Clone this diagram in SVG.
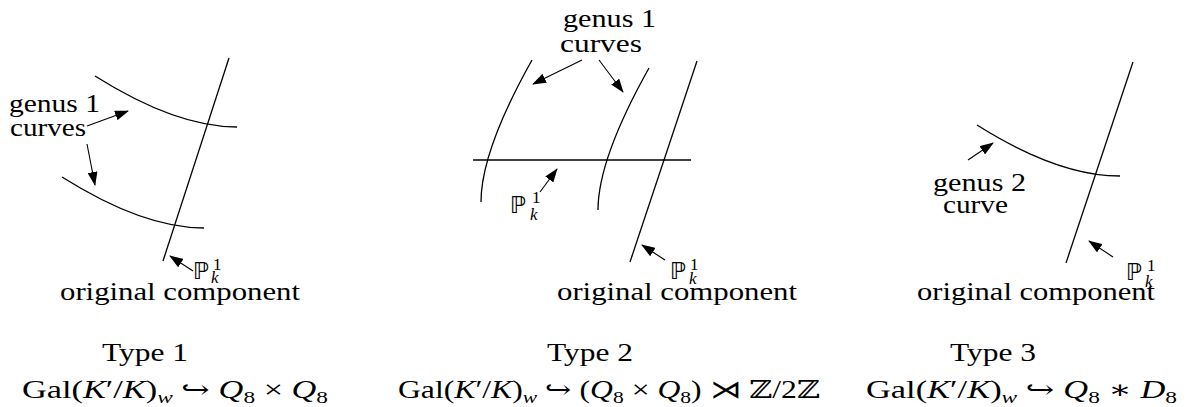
<svg xmlns="http://www.w3.org/2000/svg" width="1194" height="407" viewBox="0 0 1194 407">
<style>
text{font-family:"Liberation Serif","DejaVu Serif",serif;font-size:25px;fill:#000}
.i{font-style:italic}
.s{font-size:17px}
.bb{font-family:"DejaVu Sans","Liberation Sans",sans-serif;font-size:23px}
.ln{fill:none;stroke:#000;stroke-width:1.3}
.ar{fill:none;stroke:#000;stroke-width:1.1;marker-end:url(#ah)}
</style>
<defs>
<marker id="ah" markerUnits="userSpaceOnUse" markerWidth="14" markerHeight="10" refX="13" refY="5" orient="auto">
<path d="M0,0 L14,5 L0,10 z" fill="#000"/>
</marker>
</defs>
<g id="connectors">
<path class="ar" d="M87,126 L128,111"/>
<path class="ar" d="M87,144 L95,185"/>
<path class="ar" d="M193,271 L170,256"/>
<path class="ar" d="M582,60 L533,84"/>
<path class="ar" d="M599,60 L623,92"/>
<path class="ar" d="M540,192 L557,169"/>
<path class="ar" d="M665,260 L642,245"/>
<path class="ar" d="M968,160 L993,143"/>
<path class="ar" d="M1113,257 L1089,241"/>
</g>
<g id="panel1">
<path class="ln" d="M229,58 L163,261"/>
<path class="ln" d="M95,76 Q176,127 237,127"/>
<path class="ln" d="M62,177 Q143,228 204,228"/>
<text x="9" y="112" textLength="91" lengthAdjust="spacingAndGlyphs">genus 1</text>
<text x="10" y="136" textLength="76" lengthAdjust="spacingAndGlyphs">curves</text>
<text class="bb" x="193" y="279">ℙ</text><text class="s" x="213" y="270">1</text><text class="s i" x="211" y="283">k</text>
<text x="60" y="300" textLength="240" lengthAdjust="spacingAndGlyphs">original component</text>
</g>
<g id="panel2">
<path class="ln" d="M532,60 Q481,151 481,202"/>
<path class="ln" d="M649,68 Q598,159 598,210"/>
<path class="ln" d="M697,61 L630,262"/>
<path class="ln" d="M473,160 L691,160"/>
<text x="563" y="27" textLength="93" lengthAdjust="spacingAndGlyphs">genus 1</text>
<text x="560" y="52" textLength="82" lengthAdjust="spacingAndGlyphs">curves</text>
<text class="bb" x="510" y="213">ℙ</text><text class="s" x="532" y="203">1</text><text class="s i" x="530" y="220">k</text>
<text class="bb" x="670" y="279">ℙ</text><text class="s" x="690" y="270">1</text><text class="s i" x="689" y="284">k</text>
<text x="557" y="300" textLength="240" lengthAdjust="spacingAndGlyphs">original component</text>
</g>
<g id="panel3">
<path class="ln" d="M977,125 Q1058,176 1120,176"/>
<path class="ln" d="M1133,62 L1066,263"/>
<text x="933" y="191" textLength="93" lengthAdjust="spacingAndGlyphs">genus 2</text>
<text x="943" y="213" textLength="65" lengthAdjust="spacingAndGlyphs">curve</text>
<text class="bb" x="1126" y="280">ℙ</text><text class="s" x="1147" y="271">1</text><text class="s i" x="1145" y="287">k</text>
<text x="917" y="300" textLength="238" lengthAdjust="spacingAndGlyphs">original component</text>
</g>
<g id="labels">
<text x="102" y="361" textLength="86" lengthAdjust="spacingAndGlyphs">Type 1</text>
<text x="22" y="398" textLength="306" lengthAdjust="spacingAndGlyphs">Gal(<tspan class="i">K</tspan>′/<tspan class="i">K</tspan>)<tspan class="i s" dy="5">w</tspan><tspan dy="-5"> ↪ </tspan><tspan class="i">Q</tspan><tspan class="s" dy="5">8</tspan><tspan dy="-5"> × </tspan><tspan class="i">Q</tspan><tspan class="s" dy="5">8</tspan></text>
<text x="547" y="361" textLength="86" lengthAdjust="spacingAndGlyphs">Type 2</text>
<text x="398" y="398" textLength="422" lengthAdjust="spacingAndGlyphs">Gal(<tspan class="i">K</tspan>′/<tspan class="i">K</tspan>)<tspan class="i s" dy="5">w</tspan><tspan dy="-5"> ↪ (</tspan><tspan class="i">Q</tspan><tspan class="s" dy="5">8</tspan><tspan dy="-5"> × </tspan><tspan class="i">Q</tspan><tspan class="s" dy="5">8</tspan><tspan dy="-5">) ⋊ ℤ/2ℤ</tspan></text>
<text x="950" y="361" textLength="86" lengthAdjust="spacingAndGlyphs">Type 3</text>
<text x="866" y="398" textLength="311" lengthAdjust="spacingAndGlyphs">Gal(<tspan class="i">K</tspan>′/<tspan class="i">K</tspan>)<tspan class="i s" dy="5">w</tspan><tspan dy="-5"> ↪ </tspan><tspan class="i">Q</tspan><tspan class="s" dy="5">8</tspan><tspan dy="-5"> ∗ </tspan><tspan class="i">D</tspan><tspan class="s" dy="5">8</tspan></text>
</g>
</svg>
